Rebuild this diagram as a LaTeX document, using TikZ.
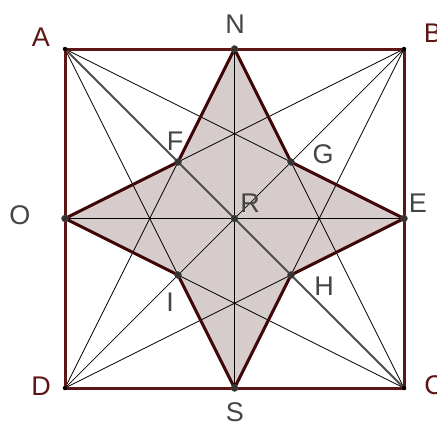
\documentclass[tikz,border=0pt]{standalone}
\usepackage{fontspec}
\setmainfont{Liberation Sans}
\usetikzlibrary{shapes.geometric}
\definecolor{maroon}{HTML}{5C1616}
\definecolor{edge}{HTML}{3F0707}
\definecolor{starfill}{HTML}{D6CCCC}
\definecolor{dotgray}{HTML}{333333}
\definecolor{labgray}{HTML}{454545}
\tikzset{
    pt/.style={circle, fill=dotgray, draw=black!70, inner sep=0pt, minimum size=7pt},
    corner/.style={circle, fill=black, inner sep=0pt, minimum size=4.5pt},
    lab/.style={text=labgray, font=\fontsize{27}{27}\selectfont, inner sep=0pt},
    clab/.style={text=maroon, font=\fontsize{27}{27}\selectfont, inner sep=0pt},
    thin line/.style={black, line width=0.7pt}
}

\begin{document}
\begin{tikzpicture}[x=1pt, y=-1pt]
    \useasboundingbox (0,0) rectangle (437,421);
    % points of the square
    \coordinate (A) at (65,49);
    \coordinate (B) at (404,49);
    \coordinate (C) at (404,388);
    \coordinate (D) at (65,388);
    \coordinate (N) at (234.5,49);
    \coordinate (S) at (234.5,388);
    \coordinate (O) at (65,218.5);
    \coordinate (E) at (404,218.5);
    \coordinate (R) at (234.5,218.5);
    \coordinate (F) at (178,162);
    \coordinate (G) at (291,162);
    \coordinate (H) at (291,275);
    \coordinate (I) at (178,275);
    % the star
    \fill[starfill] (N) -- (G) -- (E) -- (H) -- (S) -- (I) -- (O) -- (F) -- cycle;
    % construction lines
    \draw[thin line] (A) -- (E) (A) -- (S);
    \draw[thin line] (B) -- (O) (B) -- (S) (B) -- (D);
    \draw[thin line] (C) -- (O) (C) -- (N);
    \draw[thin line] (D) -- (E) (D) -- (N);
    \draw[thin line] (N) -- (S) (O) -- (E);
    \draw[color=black!70, line width=1.8pt] (A) -- (C);
    \draw[edge, line width=3pt, line join=miter] (N) -- (G) -- (E) -- (H) -- (S) -- (I) -- (O) -- (F) -- cycle;
    \draw[maroon, line width=3pt, line join=miter] (A) -- (B) -- (C) -- (D) -- cycle;
    % dots
    \foreach \p in {N,S,O,E,R,F,G,H,I}
        \node[pt] (d\p) at (\p) {};
    \foreach \p in {A,B,C,D}
        \node[corner] (d\p) at (\p) {};
    % labels
    \node[clab] (lA) at (41,37) {A};
    \node[clab] (lB) at (433,33) {B};
    \node[clab] (lC) at (434,385) {C};
    \node[clab] (lD) at (41,386) {D};
    \node[lab] (lN) at (235,24) {N};
    \node[lab] (lS) at (235,412) {S};
    \node[lab] (lO) at (20,215) {O};
    \node[lab] (lE) at (418,203) {E};
    \node[lab] (lR) at (250,203) {R};
    \node[lab] (lF) at (175,141) {F};
    \node[lab] (lG) at (323,154) {G};
    \node[lab] (lH) at (324,286) {H};
    \node[lab] (lI) at (170,302) {I};
\end{tikzpicture}
\end{document}
